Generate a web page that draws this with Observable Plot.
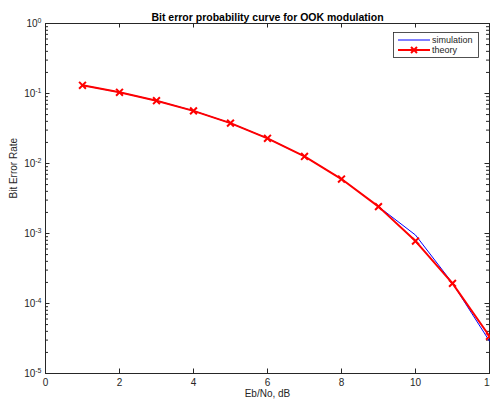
<!DOCTYPE html>
<html>
<head>
<meta charset="utf-8">
<script src="https://cdn.jsdelivr.net/npm/d3@7"></script>
<script src="https://cdn.jsdelivr.net/npm/@observablehq/plot@0.6"></script>
<style>
  html, body { margin: 0; padding: 0; background: #fff; }
  #chart svg { display: block; }
</style>
</head>
<body>
<div id="chart"></div>
<script>
// ---- data ----
const snrDb = [1, 2, 3, 4, 5, 6, 7, 8, 9, 10, 11, 12];
const simulationBER = [0.131, 0.104, 0.0789, 0.0566, 0.0377, 0.0229, 0.0126, 0.0060, 0.00242, 0.00095, 0.000195, 0.000029];
const theoryBER = [0.131, 0.104, 0.0789, 0.0565, 0.0377, 0.0229, 0.0126, 0.0060, 0.00242, 0.00078, 0.000194, 0.0000340];
const xTicks = [0, 2, 4, 6, 8, 10, 12];
const yTicks = [1, 1e-1, 1e-2, 1e-3, 1e-4, 1e-5];
const yTickExponents = ["0", "-1", "-2", "-3", "-4", "-5"];
const minorMultipliers = [2, 3, 4, 5, 6, 7, 8, 9];
const seriesNames = ["simulation", "theory"];

const sim = snrDb.map((x, i) => ({x, y: simulationBER[i]}));
const theo = snrDb.map((x, i) => ({x, y: theoryBER[i]}));
const yMinor = yTicks.slice(1).flatMap(d => minorMultipliers.map(m => d * m));

const W = 490, H = 402, ML = 45, MR = 1, MT = 23, MB = 29;
const PW = W - ML - MR, PH = H - MT - MB;
const axisColor = "#262626";
const TL = 4.5;

const plot = Plot.plot({
  width: W, height: H,
  marginLeft: ML, marginRight: MR, marginTop: MT, marginBottom: MB,
  style: {fontFamily: "'Liberation Sans', Arial, Helvetica, sans-serif", fontSize: "10px", color: axisColor, background: "#fff"},
  x: {domain: [0, 12]},
  y: {type: "log", domain: [1e-5, 1]},
  marks: [
    Plot.frame({stroke: axisColor, strokeWidth: 1}),
    // inward ticks
    Plot.tickX(xTicks, {x: d => d, insetTop: PH - TL, stroke: axisColor}),
    Plot.tickX(xTicks, {x: d => d, insetBottom: PH - TL, stroke: axisColor}),
    Plot.tickY(yTicks, {y: d => d, insetRight: PW - TL, stroke: axisColor}),
    Plot.tickY(yTicks, {y: d => d, insetLeft: PW - TL, stroke: axisColor}),
    Plot.tickY(yMinor, {y: d => d, insetRight: PW - 3, stroke: axisColor}),
    Plot.tickY(yMinor, {y: d => d, insetLeft: PW - 3, stroke: axisColor}),
    Plot.axisX({ticks: xTicks, tickSize: 0, tickPadding: 5, label: null, tickFormat: d => String(d), fill: axisColor}),
    Plot.axisY({ticks: yTicks, tickSize: 0, tickPadding: 4, label: null,
      tickFormat: d => "10^" + yTickExponents[yTicks.indexOf(d)], fill: axisColor}),
    // data
    Plot.line(sim, {x: "x", y: "y", stroke: "#0000ff", strokeWidth: 1}),
    Plot.line(theo, {x: "x", y: "y", stroke: "#ff0000", strokeWidth: 2}),
    Plot.dot(theo, {x: "x", y: "y", symbol: "times", r: 3.2, stroke: "#ff0000", strokeWidth: 2}),
    // titles
    Plot.text(["Bit error probability curve for OOK modulation"], {frameAnchor: "top", dy: -10, text: d => d, fontWeight: "bold", fontSize: 10.5, fill: "#000"}),
    Plot.text(["Bit Error Rate"], {frameAnchor: "left", dx: -32, rotate: -90, text: d => d, fontSize: 10, fill: axisColor}),
    Plot.text(["Eb/No, dB"], {frameAnchor: "bottom", dy: 23, text: d => d, fontSize: 10, fill: axisColor})
  ]
});

// superscript exponents on the y tick labels
d3.select(plot).selectAll("text").each(function() {
  const t = this.textContent;
  const m = /^10\^(.*)$/.exec(t);
  if (m) {
    const sel = d3.select(this);
    sel.text("10");
    sel.append("tspan").attr("dy", "-0.55em").attr("font-size", "7px").text(m[1]);
  }
});

// legend
const svg = d3.select(plot);
const lg = svg.append("g").attr("font-family", "'Liberation Sans', Arial, sans-serif").attr("font-size", "9px").attr("text-anchor", "start");
lg.append("rect").attr("x", 393.5).attr("y", 32.5).attr("width", 85).attr("height", 25)
  .attr("fill", "#fff").attr("stroke", axisColor).attr("stroke-width", 0.8);
lg.append("line").attr("x1", 398).attr("x2", 430).attr("y1", 40).attr("y2", 40).attr("stroke", "#0000ff").attr("stroke-width", 1);
lg.append("line").attr("x1", 398).attr("x2", 430).attr("y1", 50).attr("y2", 50).attr("stroke", "#ff0000").attr("stroke-width", 2);
lg.append("path").attr("d", "M411,47L417,53M411,53L417,47").attr("stroke", "#ff0000").attr("stroke-width", 2);
lg.append("text").attr("x", 432).attr("y", 43).attr("text-anchor", "start").attr("fill", axisColor).text(seriesNames[0]);
lg.append("text").attr("x", 432).attr("y", 53).attr("text-anchor", "start").attr("fill", axisColor).text(seriesNames[1]);

document.getElementById("chart").appendChild(plot);
</script>
</body>
</html>
